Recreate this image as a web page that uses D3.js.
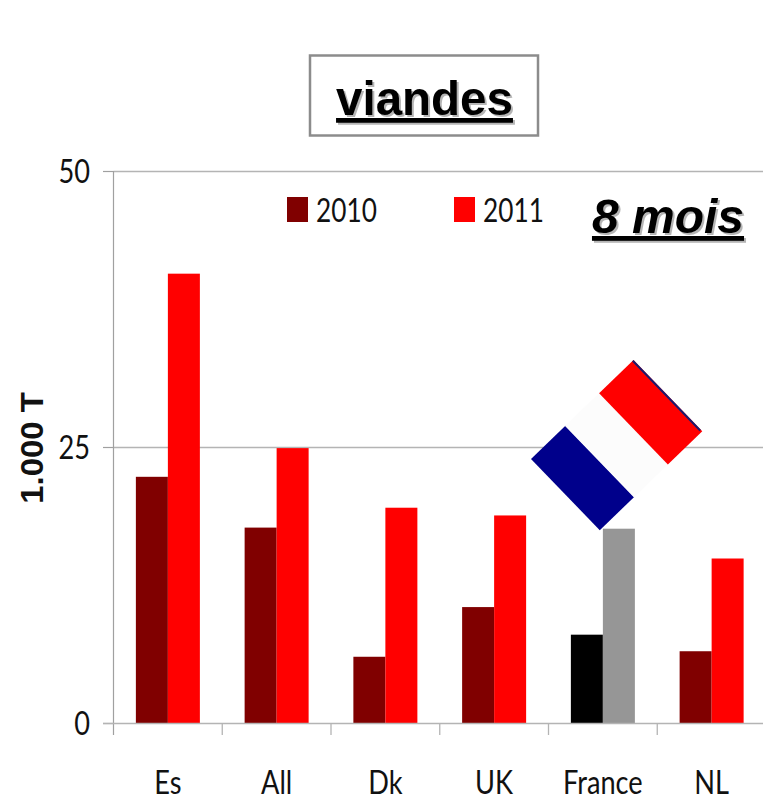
<!DOCTYPE html>
<html><head><meta charset="utf-8">
<script src="https://cdn.jsdelivr.net/npm/d3@7"></script>
<style>
html,body{margin:0;padding:0;background:#fff}
svg{display:block}
.lab{font-family:Lato,"Open Sans",sans-serif;fill:#111}
.ytitle{font-family:"Liberation Sans",Arial,sans-serif;font-weight:bold;fill:#111}
.head{font-family:"Liberation Sans",Arial,sans-serif;font-weight:bold;fill:#000;text-decoration:underline;filter:drop-shadow(2px 2px 0 #b5b5b5)}
</style></head><body>
<svg id="c" width="763" height="800"></svg>
<script>
const categories = ["Es","All","Dk","UK","France","NL"];
const seriesNames = ["2010","2011"];
const values2010 = [22.3,17.7,6.0,10.5,8.0,6.5];
const values2011 = [40.7,24.9,19.5,18.8,17.6,14.9];
const yTicks = [0,25,50];
const colors2010 = ["#800000","#800000","#800000","#800000","#000000","#800000"];
const colors2011 = ["#ff0000","#ff0000","#ff0000","#ff0000","#969696","#ff0000"];
const flagColors = ["#00008b","#fcfcfc","#ff0000"];

const svg = d3.select("#c");
const x = d3.scaleBand().domain(categories).range([113.5,766]).paddingInner(0).paddingOuter(0);
const y = d3.scaleLinear().domain([0,50]).range([723,171]);
const barW = 32;
const x1 = d3.scaleBand().domain(seriesNames).range([x.bandwidth()/2-barW, x.bandwidth()/2+barW]);
const squeeze = 0.85;
const legendSqueeze = 0.82;

function condensed(sel, px, py, k=squeeze){ sel.attr("transform",`translate(${px},${py}) scale(${k},1)`); }

// gridlines
svg.append("g").selectAll("line").data(yTicks.slice(1)).join("line")
  .attr("x1",113.5).attr("x2",763).attr("y1",d=>y(d)+.5).attr("y2",d=>y(d)+.5)
  .attr("stroke","#b4b4b4").attr("stroke-width",1.3);

// bars
const rows = categories.map((c,i)=>({c,i}));
const groups = svg.append("g").selectAll("g").data(rows).join("g")
  .attr("transform",d=>`translate(${x(d.c)},0)`);
groups.append("rect").attr("x",x1("2010")).attr("width",x1.bandwidth())
  .attr("y",d=>y(values2010[d.i])).attr("height",d=>y(0)-y(values2010[d.i]))
  .attr("fill",d=>colors2010[d.i]);
groups.append("rect").attr("x",x1("2011")).attr("width",x1.bandwidth())
  .attr("y",d=>y(values2011[d.i])).attr("height",d=>y(0)-y(values2011[d.i]))
  .attr("fill",d=>colors2011[d.i]);

// axes
const axisCol="#a0a0a0";
svg.append("line").attr("x1",113.5).attr("x2",113.5).attr("y1",171).attr("y2",735).attr("stroke",axisCol).attr("stroke-width",1.2);
svg.append("g").selectAll("line").data(yTicks).join("line")
  .attr("x1",103).attr("x2",113.5).attr("y1",d=>y(d)+.5).attr("y2",d=>y(d)+.5).attr("stroke",axisCol).attr("stroke-width",1.2);
svg.append("line").attr("x1",103).attr("x2",763).attr("y1",y(0)+.5).attr("y2",y(0)+.5).attr("stroke","#b4b4b4").attr("stroke-width",1.3);
svg.append("g").selectAll("line").data(categories).join("line")
  .attr("x1",d=>x(d)+x.bandwidth()).attr("x2",d=>x(d)+x.bandwidth()).attr("y1",723).attr("y2",735)
  .attr("stroke","#b4b4b4").attr("stroke-width",1.3);

// y tick labels
svg.append("g").selectAll("text").data(yTicks).join("text").attr("class","lab")
  .attr("font-size",32).attr("text-anchor","end").text(d=>d)
  .each(function(d){condensed(d3.select(this),90,y(d)+12)});

// category labels
svg.append("g").selectAll("text").data(categories).join("text").attr("class","lab")
  .attr("font-size",32).attr("text-anchor","middle").text(d=>d)
  .each(function(d){condensed(d3.select(this),x(d)+x.bandwidth()/2,794)});

// y title
svg.append("text").attr("class","ytitle").attr("font-size",31)
  .attr("text-anchor","middle").attr("transform",`translate(43,448) rotate(-90) scale(1.06,1)`).text("1.000 T");

// legend
const legendX = {"2010":287,"2011":454};
const leg = svg.append("g").selectAll("g").data(seriesNames).join("g");
leg.append("rect").attr("x",d=>legendX[d]).attr("y",197).attr("width",21).attr("height",25)
  .attr("fill",d=>d==="2010"?colors2010[0]:colors2011[0]);
leg.append("text").attr("class","lab").attr("font-size",32).text(d=>d)
  .each(function(d){condensed(d3.select(this),legendX[d]+29,222,legendSqueeze)});

// title
svg.append("rect").attr("x",310).attr("y",55.5).attr("width",228).attr("height",80)
  .attr("fill","#fff").attr("stroke","#8c8c8c").attr("stroke-width",2.5);
svg.append("text").attr("class","head").attr("x",424.5).attr("y",115).attr("text-anchor","middle")
  .attr("font-size",47.5).text("viandes");
svg.append("text").attr("class","head").attr("x",668).attr("y",233).attr("text-anchor","middle")
  .attr("font-size",48).attr("font-style","italic").text("8 mois");

// flag
const flagX = d3.scaleBand().domain(flagColors).range([0,142]);
const flag = svg.append("g").attr("transform","translate(531,459) rotate(-44)");
flag.selectAll("rect.s").data(flagColors).join("rect").attr("class","s")
  .attr("x",d=>flagX(d)).attr("width",flagX.bandwidth()+.5).attr("y",0).attr("height",99).attr("fill",d=>d);
flag.append("rect").attr("x",140.5).attr("y",0).attr("width",2).attr("height",97).attr("fill","#1a1a6e");
</script>
</body></html>
